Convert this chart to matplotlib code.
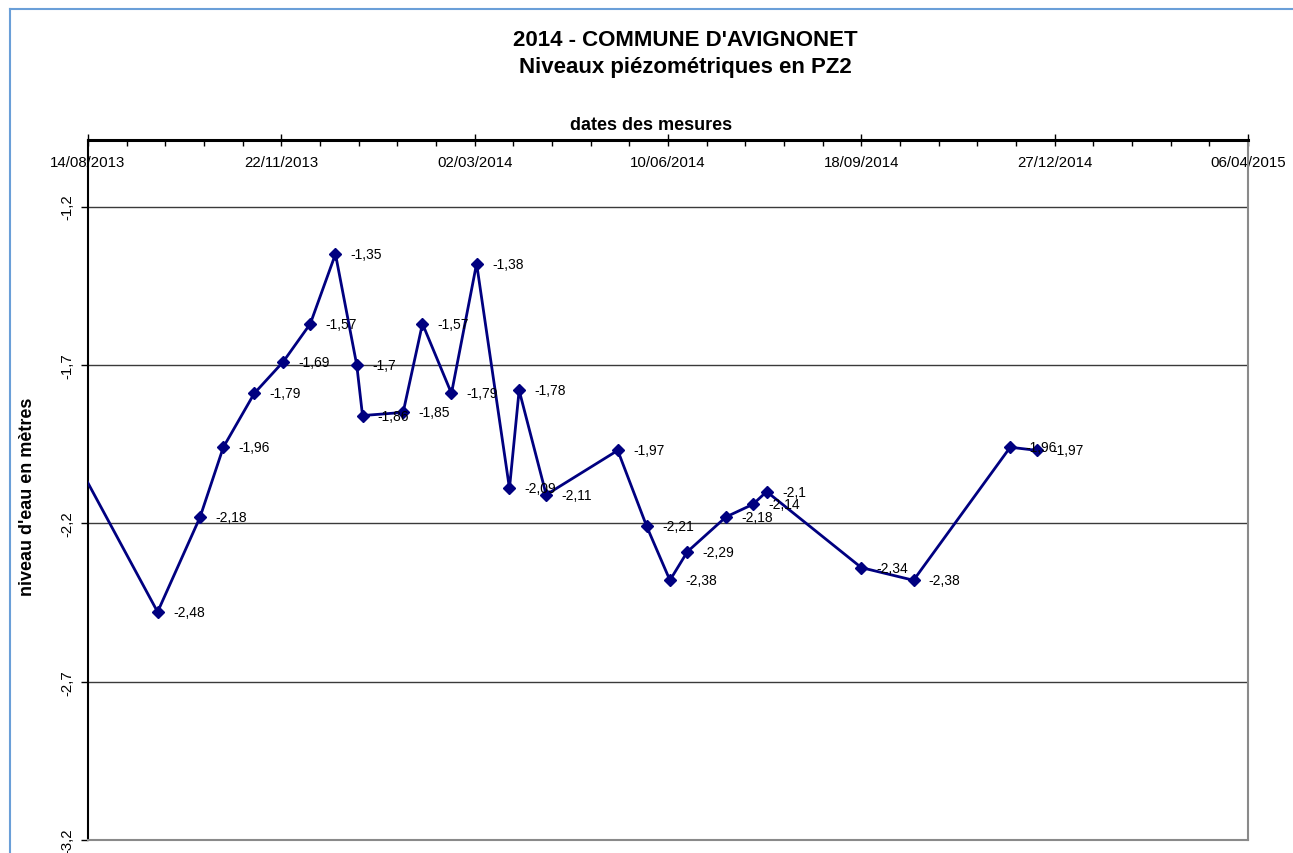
import numpy as np
import matplotlib
matplotlib.use("Agg")
import matplotlib.pyplot as plt
import matplotlib.dates as mdates
from matplotlib.lines import Line2D
from datetime import datetime

plt.rcParams['font.family'] = ['Liberation Sans', 'DejaVu Sans']

# measurement dates (first one sits before the axis start and is clipped)
dates = ["04/08/2013", "19/09/2013", "11/10/2013", "23/10/2013", "08/11/2013",
         "23/11/2013", "07/12/2013", "20/12/2013", "31/12/2013", "03/01/2014",
         "24/01/2014", "03/02/2014", "18/02/2014", "03/03/2014", "20/03/2014",
         "25/03/2014", "08/04/2014", "15/05/2014", "30/05/2014", "11/06/2014",
         "20/06/2014", "10/07/2014", "24/07/2014", "31/07/2014", "18/09/2014",
         "15/10/2014", "04/12/2014", "18/12/2014"]
levels = [-1.96, -2.48, -2.18, -1.96, -1.79,
          -1.69, -1.57, -1.35, -1.7, -1.86,
          -1.85, -1.57, -1.79, -1.38, -2.09,
          -1.78, -2.11, -1.97, -2.21, -2.38,
          -2.29, -2.18, -2.14, -2.1, -2.34,
          -2.38, -1.96, -1.97]

x_start = "14/08/2013"
x_end = "06/04/2015"
y_min, y_max = -3.2, -0.99

W, H = 1293, 854
fig = plt.figure(figsize=(W / 100, H / 100), dpi=100)
ax = fig.add_axes([88 / W, 1 - 841 / H, (1248 - 88) / W, 700 / H])

xs = [mdates.date2num(datetime.strptime(d, "%d/%m/%Y")) for d in dates]
x0 = mdates.date2num(datetime.strptime(x_start, "%d/%m/%Y"))
x1 = mdates.date2num(datetime.strptime(x_end, "%d/%m/%Y"))

ax.plot(xs, levels, color='#000080', lw=2, marker='D', ms=6.5,
        markerfacecolor='#000080', markeredgecolor='#000080', zorder=3)

for x, v in zip(xs, levels):
    txt = ('%g' % v).replace('.', ',')
    ax.annotate(txt, (x, v), xytext=(11, 0), textcoords='offset points',
                ha='left', va='center', fontsize=10, color='black', zorder=4)

ax.set_xlim(x0, x1)
ax.set_ylim(y_min, y_max)

# date axis on top, labels inside the plot area
ax.xaxis.tick_top()
ax.set_xticks(np.arange(x0, x1 + 1, 100))
ax.set_xticks(np.arange(x0, x1 + 1, 20), minor=True)
ax.xaxis.set_major_formatter(mdates.DateFormatter('%d/%m/%Y'))
ax.tick_params(axis='x', which='major', direction='inout', length=8, width=1,
               pad=-25, labelsize=10.8)
ax.tick_params(axis='x', which='minor', direction='in', length=4, width=1)

yt = np.arange(-3.2, -1.19, 0.5)
ax.set_yticks(yt)
ax.set_yticklabels([('%g' % round(v, 1)).replace('.', ',') for v in yt])
ax.tick_params(axis='y', direction='out', length=5, width=1, pad=5,
               labelsize=10.8)
for lab in ax.get_yticklabels():
    lab.set_rotation(90)
    lab.set_va('center')

for v in yt[1:]:
    ax.axhline(v, color='#3a3a3a', lw=1, zorder=1)

ax.spines['top'].set_linewidth(2.2)
ax.spines['top'].set_color('black')
ax.spines['left'].set_linewidth(1.5)
ax.spines['left'].set_color('black')
ax.spines['right'].set_color('#8a8a8a')
ax.spines['right'].set_linewidth(1.5)
ax.spines['bottom'].set_color('#8a8a8a')
ax.spines['bottom'].set_linewidth(1.5)

fig.text(685 / W, 1 - 40 / H, "2014 - COMMUNE D'AVIGNONET", ha='center',
         va='center', fontsize=16, fontweight='bold')
fig.text(685 / W, 1 - 67 / H, "Niveaux piézométriques en PZ2", ha='center',
         va='center', fontsize=16, fontweight='bold')
fig.text(651 / W, 1 - 125 / H, "dates des mesures", ha='center', va='center',
         fontsize=13, fontweight='bold')
fig.text(28 / W, 1 - 497 / H, "niveau d'eau en mètres", ha='center',
         va='center', rotation=90, fontsize=13, fontweight='bold')

# outer chart frame (top and left edges visible)
fig.add_artist(Line2D([10 / W, 1], [1 - 10 / H, 1 - 10 / H],
                      transform=fig.transFigure, color='#6a9fd8', lw=1.5))
fig.add_artist(Line2D([10 / W, 10 / W], [0, 1 - 10 / H],
                      transform=fig.transFigure, color='#6a9fd8', lw=1.5))

fig.savefig("out.png", dpi=100)
